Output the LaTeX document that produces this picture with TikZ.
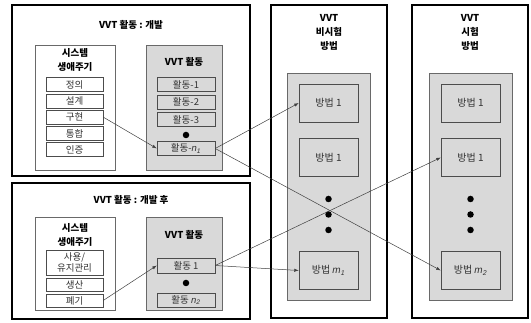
\documentclass[tikz,border=0pt]{standalone}
\usepackage{fontspec}
\setmainfont{Noto Sans CJK KR}
\newfontfamily\latinsans{Liberation Sans}
\usetikzlibrary{arrows.meta, positioning, calc}
\definecolor{panelgray}{RGB}{217, 217, 217}
\definecolor{edgegray}{RGB}{105, 105, 105}
\newcommand{\varidx}[2]{{\latinsans\itshape #1\textsubscript{#2}}}

\begin{document}
\begin{tikzpicture}[x=1pt, y=-1pt,
        frame/.style={
            draw=black,
            line width=1.5pt,
            inner sep=0pt
        },
        lifebox/.style={
            draw=edgegray,
            fill=white,
            inner sep=0pt,
            minimum width=80pt
        },
        vvtbox/.style={
            draw=edgegray,
            fill=panelgray,
            inner sep=0pt
        },
        lifeitem/.style={
            draw=black!70,
            fill=white,
            text=black!80,
            minimum width=57pt,
            minimum height=14pt,
            inner sep=0pt,
            font=\fontsize{9.5}{11}\selectfont
        },
        actitem/.style={
            lifeitem,
            fill=panelgray,
            minimum width=58pt
        },
        methodbox/.style={
            draw=black!70,
            fill=panelgray,
            text=black!80,
            minimum width=59pt,
            minimum height=38pt,
            inner sep=0pt,
            font=\fontsize{10}{11}\selectfont
        },
        heading/.style={
            align=center,
            font=\bfseries\fontsize{9.5}{14}\selectfont
        },
        dot/.style={
            circle,
            fill=black,
            inner sep=0pt,
            minimum size=6.5pt
        },
        link/.style={
            draw=black!75,
            line width=0.5pt,
            -{Latex[length=4.5pt, width=3.2pt]}
        }
    ]
    \useasboundingbox (0,0) rectangle (531,323);

    % outer frames
    \node[frame, minimum width=238pt, minimum height=171pt] (dev) at (131,90.5) {};
    \node[frame, minimum width=238pt, minimum height=136pt] (after) at (131,251) {};
    \node[frame, minimum width=116pt, minimum height=313pt] (nontest) at (329,161.5) {};
    \node[frame, minimum width=116pt, minimum height=313pt] (test) at (470,161.5) {};

    \node[heading] (devtitle) at (131,25) {VVT 활동 : 개발};
    \node[heading] (aftertitle) at (131,200) {VVT 활동 : 개발 후};
    \node[heading] (nttitle) at (329,32) {VVT\\비시험\\방법};
    \node[heading] (ttitle) at (470,32) {VVT\\시험\\방법};

    % development phase
    \node[lifebox, minimum height=125pt] (dlife) at (75,107.5) {};
    \node[vvtbox, minimum width=76pt, minimum height=125pt] (dvvt) at (184,107.5) {};
    \node[heading] (dlifetitle) at (75,60) {시스템\\생애주기};
    \node[heading] (dvvttitle) at (184,62) {VVT 활동};
    \foreach \texto [count=\n] in {정의, 설계, 구현, 통합, 인증} {
        \node[lifeitem] (dstep\n) at (74.5,{84.5+16.3*(\n-1)}) {\texto};
    }
    \foreach \n in {1,2,3} {
        \node[actitem] (dact\n) at (186,{84.5+17.6*(\n-1)}) {활동-\n};
    }
    \node[dot] (ddot) at (186,135) {};
    \node[actitem] (dact4) at (186,148.5) {활동-\varidx{n}{1}};

    % after development
    \node[lifebox, minimum height=93pt] (alife) at (75,263.5) {};
    \node[vvtbox, minimum width=76pt, minimum height=93pt] (avvt) at (184,263.5) {};
    \node[heading] (alifetitle) at (75,235) {시스템\\생애주기};
    \node[heading] (avvttitle) at (184,235) {VVT 활동};
    \node[lifeitem, minimum height=25pt, align=center,
        font=\fontsize{9.5}{11.5}\selectfont] (astep1) at (74.5,262.5) {사용/\\유지관리};
    \node[lifeitem, minimum height=13pt] (astep2) at (74.5,285) {생산};
    \node[lifeitem, minimum height=13pt] (astep3) at (74.5,300.5) {폐기};
    \node[actitem, minimum height=15pt] (aact1) at (186,265.5) {활동 1};
    \node[dot] (adot) at (186,283) {};
    \node[actitem] (aact2) at (186,300) {활동 \varidx{n}{2}};

    % methods
    \node[vvtbox, minimum width=83pt, minimum height=227pt] (ntpanel) at (328.5,186.5) {};
    \node[vvtbox, minimum width=83pt, minimum height=227pt] (tpanel) at (470.5,186.5) {};
    \foreach \col/\x in {nt/328.5, t/470.5} {
        \node[methodbox] (\col1) at (\x,103) {방법 1};
        \node[methodbox] (\col2) at (\x,157.5) {방법 1};
        \foreach \y [count=\n] in {199, 214.5, 230} {
            \node[dot] (\col dot\n) at (\x,\y) {};
        }
    }
    \node[methodbox] (ntm) at (328.5,270.5) {방법 \varidx{m}{1}};
    \node[methodbox] (tm) at (470.5,270.5) {방법 \varidx{m}{2}};

    % links
    \draw[link] (dstep3.east) -- (dact4.west);
    \draw[link] (astep3.east) -- (aact1.west);
    \draw[link] (dact4.east) -- (nt1.west);
    \draw[link] (dact4.east) -- (tm.west);
    \draw[link] (aact1.east) -- (t2.west);
    \draw[link] (aact1.east) -- (ntm.west);
\end{tikzpicture}
\end{document}
